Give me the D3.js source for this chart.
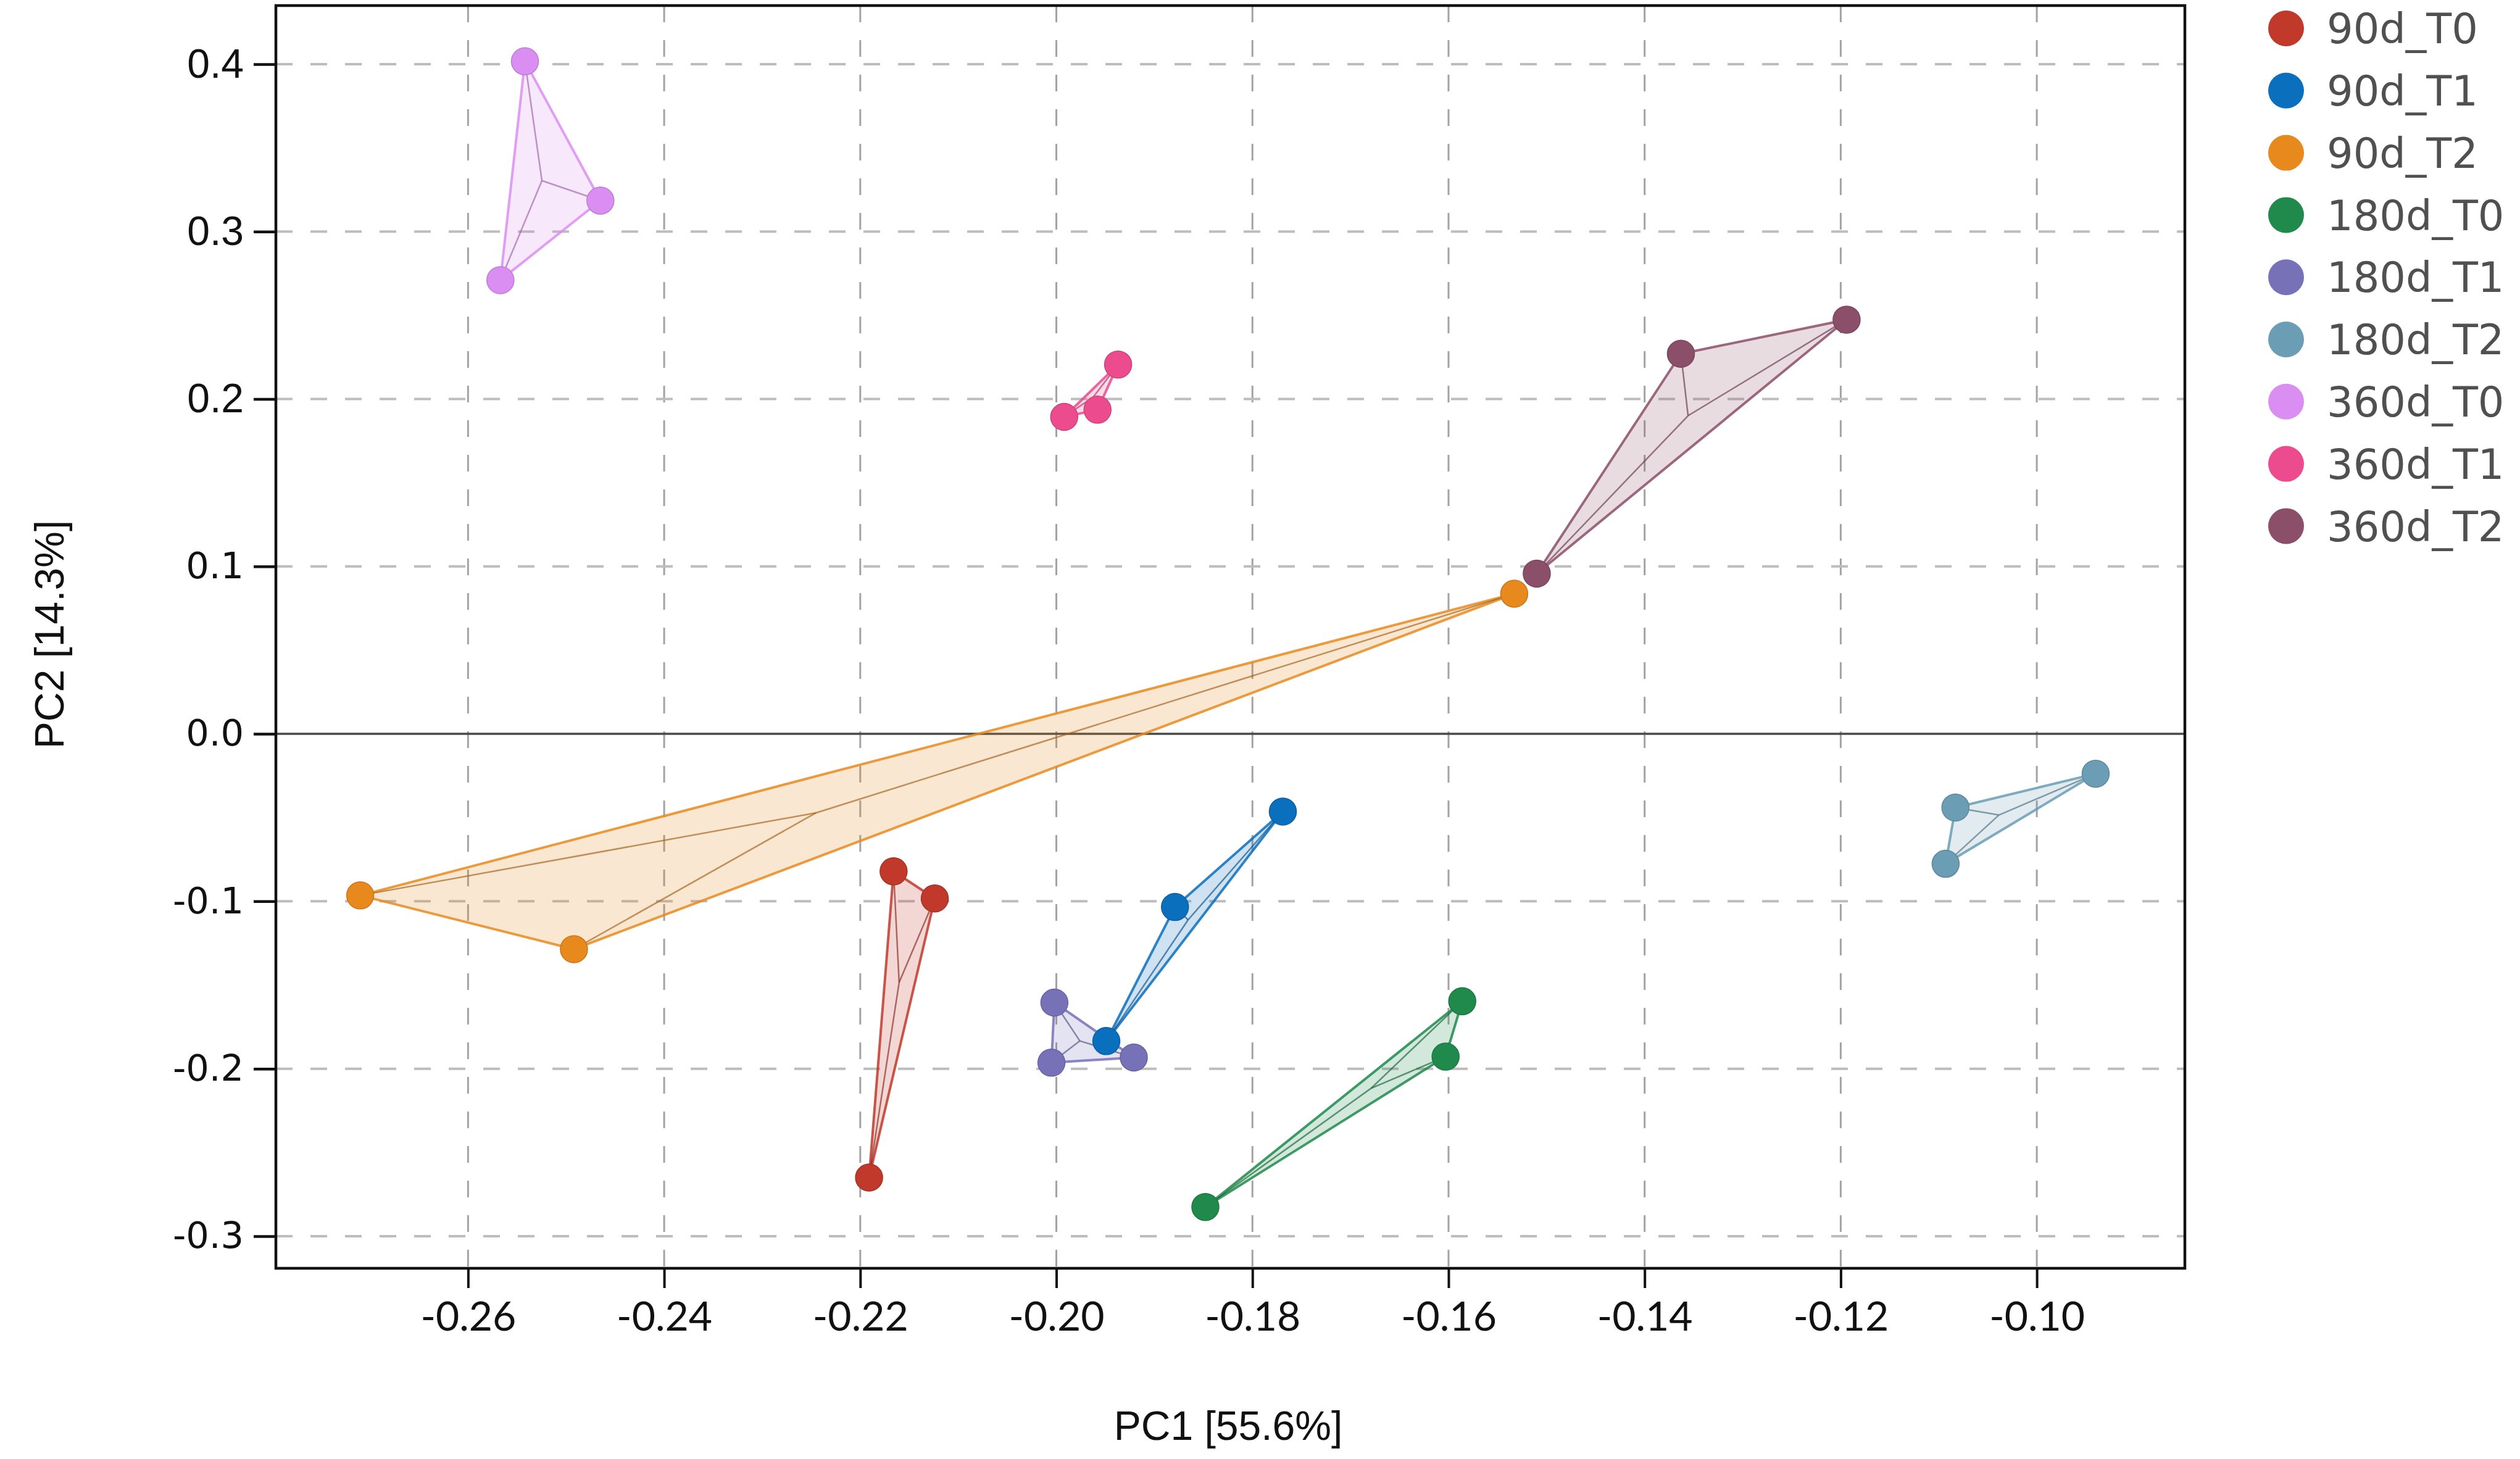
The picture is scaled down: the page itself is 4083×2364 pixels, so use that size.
<!DOCTYPE html>
<html>
<head>
<meta charset="utf-8">
<script src="https://cdn.jsdelivr.net/npm/d3@7/dist/d3.min.js"></script>
<style>
  html, body { margin: 0; padding: 0; background: #fff; }
  svg { display: block; }
</style>
</head>
<body>
<svg id="chart" width="4083" height="2364"></svg>
<script>
// ---------- DATA ----------
const groups = ["90d_T0", "90d_T1", "90d_T2", "180d_T0", "180d_T1", "180d_T2", "360d_T0", "360d_T1", "360d_T2"];
const colors = ["#c0392b", "#0a6fbd", "#e8891e", "#1f8a4c", "#7771b8", "#6b9db4", "#da8ef2", "#ec4b8e", "#8c4f6a"];
// PC1 values (3 samples per group)
const pc1 = [
  [-0.2166, -0.2124, -0.2191],
  [-0.1769, -0.1879, -0.1949],
  [-0.1533, -0.2710, -0.2492],
  [-0.1586, -0.1603, -0.1848],
  [-0.2002, -0.2005, -0.1921],
  [-0.0940, -0.1083, -0.1093],
  [-0.2542, -0.2465, -0.2567],
  [-0.1937, -0.1958, -0.1992],
  [-0.1194, -0.1363, -0.1510]
];
// PC2 values
const pc2 = [
  [-0.0821, -0.0983, -0.2650],
  [-0.0464, -0.1034, -0.1835],
  [ 0.0837, -0.0965, -0.1286],
  [-0.1597, -0.1928, -0.2826],
  [-0.1605, -0.1964, -0.1933],
  [-0.0238, -0.0440, -0.0776],
  [ 0.4017,  0.3185,  0.2710],
  [ 0.2206,  0.1936,  0.1893],
  [ 0.2474,  0.2270,  0.0957]
];
const xTicks = [-0.26, -0.24, -0.22, -0.20, -0.18, -0.16, -0.14, -0.12, -0.10];
const yTicks = [-0.3, -0.2, -0.1, 0.0, 0.1, 0.2, 0.3, 0.4];
const xTitle = "PC1 [55.6%]";
const yTitle = "PC2 [14.3%]";

// ---------- LAYOUT ----------
const L = 447, R = 3540, T = 9, B = 2055;
const svg = d3.select("#chart");

const x = d3.scaleLinear().domain([-0.2796, -0.0849]).range([L, R]);
const y = d3.scaleLinear().domain([-0.3192, 0.435]).range([B, T]);

// grid
const grid = svg.append("g");
grid.selectAll("line.vg").data(xTicks).join("line")
  .attr("x1", d => x(d)).attr("x2", d => x(d))
  .attr("y1", T).attr("y2", B)
  .attr("stroke", "#a3a3a3").attr("stroke-width", 3)
  .attr("stroke-dasharray", "27,29");
grid.selectAll("line.hg").data(yTicks.filter(d => d !== 0)).join("line")
  .attr("x1", L).attr("x2", R)
  .attr("y1", d => y(d)).attr("y2", d => y(d))
  .attr("stroke", "#bdbdbd").attr("stroke-width", 4)
  .attr("stroke-dasharray", "27,29");
// zero line
svg.append("line")
  .attr("x1", L).attr("x2", R).attr("y1", y(0)).attr("y2", y(0))
  .attr("stroke", "#4a4a4a").attr("stroke-width", 3.5);

// groups
const plot = svg.append("g");
groups.forEach((g, i) => {
  const pts = pc1[i].map((v, j) => [x(v), y(pc2[i][j])]);
  const c = colors[i];
  const dark = d3.color(c).darker(1).formatHex();
  const hull = d3.polygonHull(pts);
  plot.append("path")
    .attr("d", "M" + hull.map(p => p.join(",")).join("L") + "Z")
    .attr("fill", c).attr("fill-opacity", 0.2)
    .attr("stroke", c).attr("stroke-width", 4).attr("stroke-opacity", 0.85)
    .attr("stroke-linejoin", "round");
  const cx = d3.mean(pts, p => p[0]), cy = d3.mean(pts, p => p[1]);
  plot.selectAll(null).data(pts).join("line")
    .attr("x1", cx).attr("y1", cy)
    .attr("x2", p => p[0]).attr("y2", p => p[1])
    .attr("stroke", dark).attr("stroke-width", 2.5).attr("stroke-opacity", 0.65);
});
groups.forEach((g, i) => {
  const c = colors[i];
  const pts = pc1[i].map((v, j) => [v, pc2[i][j]]);
  plot.selectAll(null).data(pts).join("circle")
    .attr("cx", d => x(d[0])).attr("cy", d => y(d[1]))
    .attr("r", 22)
    .attr("fill", c)
    .attr("stroke", d3.color(c).darker(0.4).formatHex()).attr("stroke-width", 1.5);
});

// frame
svg.append("rect")
  .attr("x", L).attr("y", T).attr("width", R - L).attr("height", B - T)
  .attr("fill", "none").attr("stroke", "#111").attr("stroke-width", 4.5);

// y axis
const yAxis = svg.append("g").attr("transform", `translate(${L},0)`)
  .call(d3.axisLeft(y).tickValues(yTicks).tickSize(36).tickPadding(16).tickFormat(d3.format(".1f")));
yAxis.select(".domain").remove();
yAxis.selectAll(".tick line").attr("stroke", "#111").attr("stroke-width", 4.5);
yAxis.selectAll(".tick text")
  .attr("fill", "#111")
  .style("font-family", d => d >= 0.2 ? "'Liberation Sans', Arial, sans-serif" : "'DejaVu Sans', Verdana, sans-serif")
  .style("font-size", d => d >= 0.2 ? "66px" : "59px")
  .text(d => d3.format(".1f")(d).replace("−", "-"));

// x axis
const xAxis = svg.append("g").attr("transform", `translate(0,${B})`)
  .call(d3.axisBottom(x).tickValues(xTicks).tickSize(32).tickPadding(22).tickFormat(d => d3.format(".2f")(d).replace("−", "-")));
xAxis.select(".domain").remove();
xAxis.selectAll(".tick line").attr("stroke", "#111").attr("stroke-width", 4);
xAxis.selectAll(".tick text")
  .attr("fill", "#111")
  .style("font-family", "Lato, 'Liberation Sans', sans-serif")
  .style("font-size", "66px");

// axis titles
svg.append("text")
  .attr("x", 1990).attr("y", 2333)
  .attr("text-anchor", "middle")
  .style("font-family", "'Liberation Sans', Arial, sans-serif")
  .style("font-size", "66px").attr("fill", "#111")
  .text(xTitle);
svg.append("text")
  .attr("transform", "translate(103,1028) rotate(-90)")
  .attr("text-anchor", "middle")
  .style("font-family", "'Liberation Sans', Arial, sans-serif")
  .style("font-size", "66px").attr("fill", "#111")
  .text(yTitle);

// legend
const leg = svg.append("g");
const legItems = leg.selectAll("g").data(groups).join("g")
  .attr("transform", (d, i) => `translate(3704,${46 + i * 100.8})`);
legItems.append("circle").attr("r", 29).attr("fill", (d, i) => colors[i]);
legItems.append("text")
  .attr("x", 66).attr("y", 0).attr("dy", "0.36em")
  .style("font-family", "'DejaVu Sans', Verdana, sans-serif")
  .style("font-size", "67px").attr("fill", "#505050")
  .text(d => d);
</script>
</body>
</html>
